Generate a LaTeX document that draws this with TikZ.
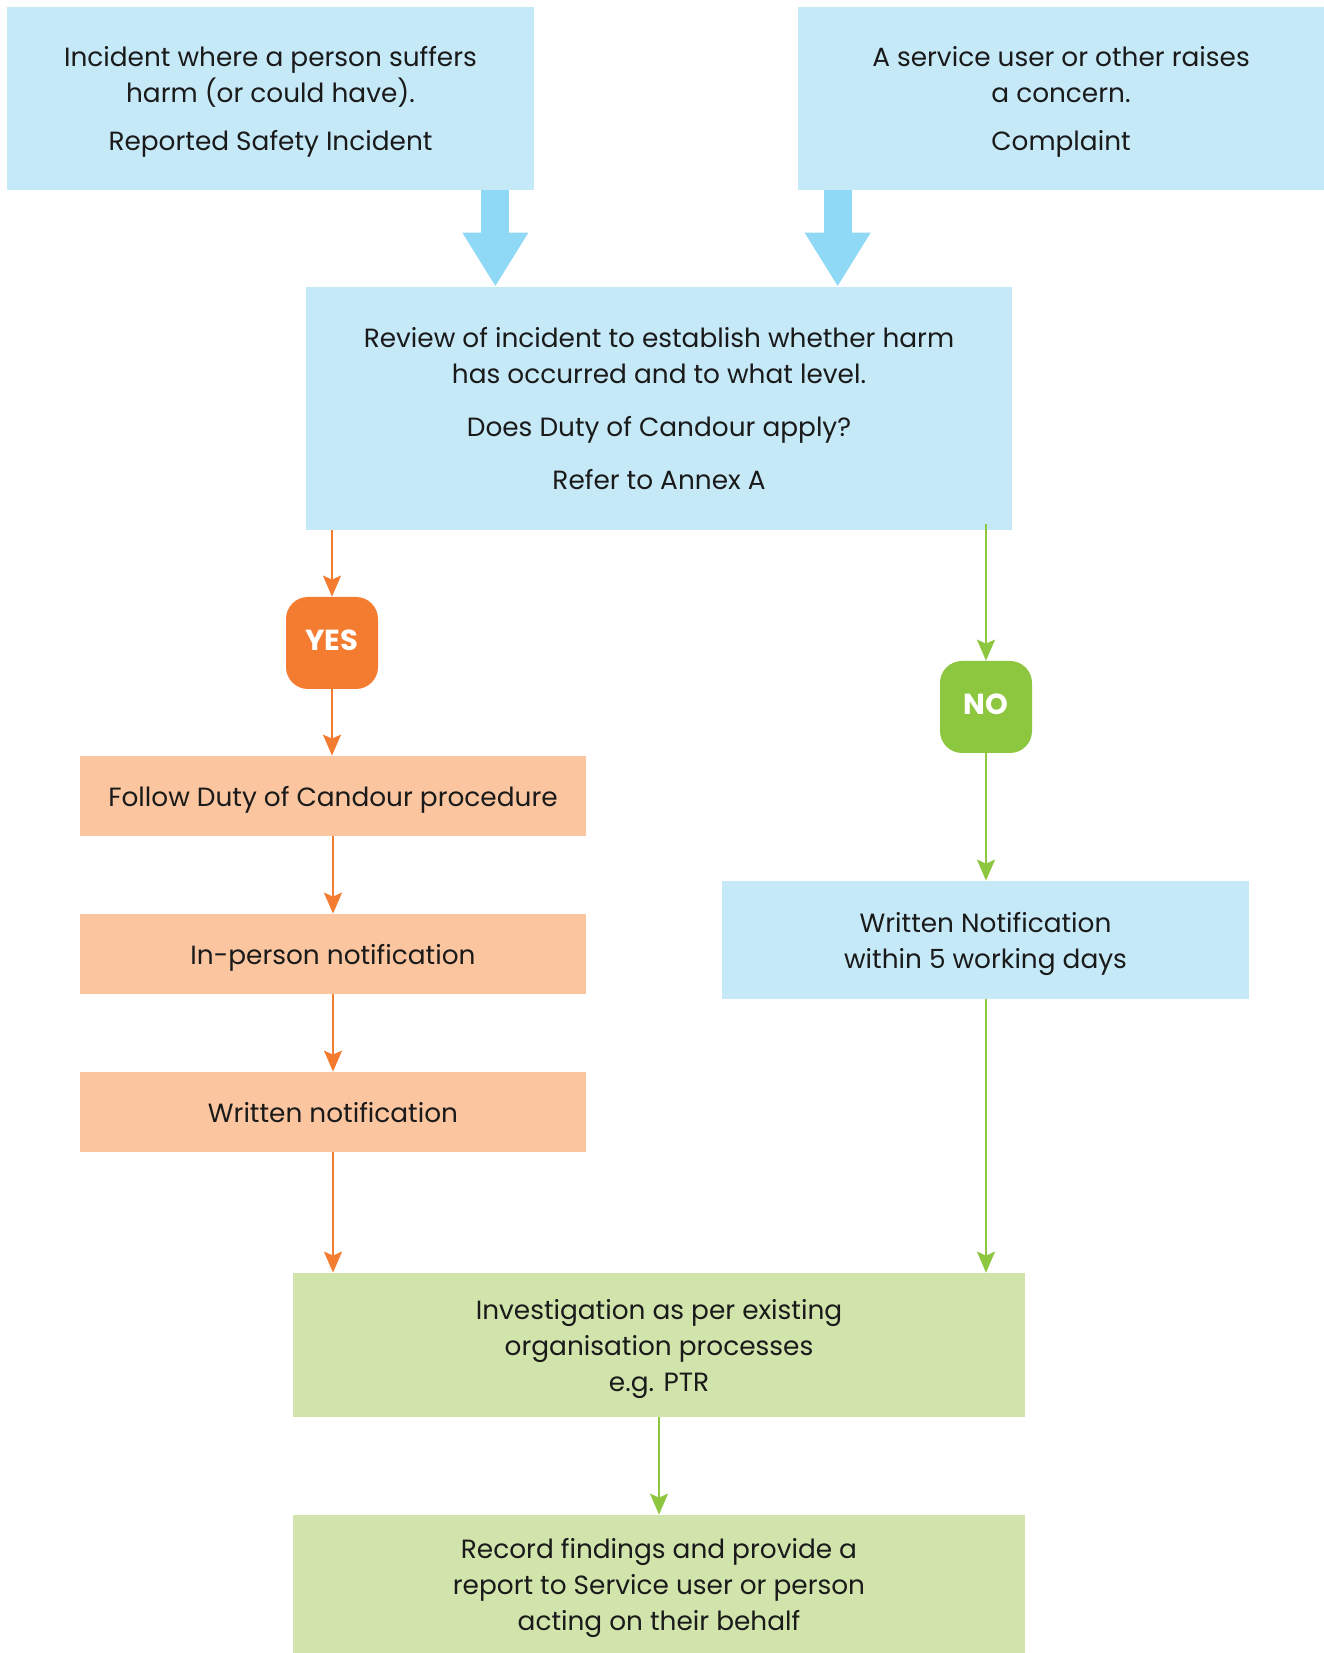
\documentclass[tikz,border=0pt]{standalone}
\usepackage{fontspec}
\setmainfont{Poppins}
\usepackage{xcolor}
\usepackage{tikz}
\usetikzlibrary{arrows.meta}
\definecolor{DCBlue}{HTML}{C6E9F8}
\definecolor{DCArrow}{HTML}{8FD8F6}
\definecolor{DCOrange}{HTML}{F47C30}
\definecolor{DCPeach}{HTML}{FAC59F}
\definecolor{DCGreen}{HTML}{8DC63F}
\definecolor{DCSage}{HTML}{D0E4AC}
\definecolor{DCText}{HTML}{1A1A1A}
\tikzset{
  box/.style={inner sep=0pt,align=center,text=DCText,font=\fontsize{15}{20.5}\selectfont,text depth=-0.20cm},
  bluebox/.style={box,fill=DCBlue},
  peachbox/.style={box,fill=DCPeach,minimum width=10.12cm,minimum height=1.60cm},
  sagebox/.style={box,fill=DCSage,minimum width=14.64cm},
  answer/.style={inner sep=0pt,minimum width=1.84cm,minimum height=1.84cm,rounded corners=0.44cm,text=white,text depth=0.13cm,font=\fontsize{16.5}{20}\selectfont\bfseries},
  bigarrow/.style={DCArrow,line width=0.56cm,-{Triangle[width=1.24cm,length=1.08cm]}},
  orangeline/.style={DCOrange,line width=0.04cm,-{Stealth[length=0.42cm,width=0.36cm,inset=0.08cm]}},
  greenline/.style={DCGreen,line width=0.04cm,-{Stealth[length=0.42cm,width=0.36cm,inset=0.08cm]}}
}
\begin{document}
\begin{tikzpicture}[x=1cm,y=1cm]
\path[use as bounding box,fill=white] (0,0) rectangle (26.48,33.06);
\node[bluebox,minimum width=10.54cm,minimum height=3.66cm,text depth=-0.09cm] (incident) at (5.41,31.09) {Incident where a person suffers\\harm (or could have).\\[0.24cm]Reported Safety Incident};
\node[bluebox,minimum width=10.52cm,minimum height=3.66cm,text depth=-0.09cm] (complaint) at (21.22,31.09) {A service user or other raises\\a concern.\\[0.24cm]Complaint};
\node[bluebox,minimum width=14.12cm,minimum height=4.86cm] (review) at (13.18,24.89) {Review of incident to establish whether harm\\has occurred and to what level.\\[0.34cm]Does Duty of Candour apply?\\[0.34cm]Refer to Annex A};
\node[answer,fill=DCOrange] (yes) at (6.64,20.20) {YES};
\node[answer,fill=DCGreen] (no) at (19.72,18.92) {NO};
\node[peachbox] (follow) at (6.66,17.14) {Follow Duty of Candour procedure};
\node[peachbox] (inperson) at (6.66,13.98) {In-person notification};
\node[peachbox] (written) at (6.66,10.82) {Written notification};
\node[bluebox,minimum width=10.54cm,minimum height=2.36cm] (notice) at (19.71,14.26) {Written Notification\\within 5 working days};
\node[sagebox,minimum height=2.88cm] (investigation) at (13.18,6.16) {Investigation as per existing\\organisation processes\\e.g. PTR};
\node[sagebox,minimum height=2.76cm,text depth=-0.39cm] (record) at (13.18,1.38) {Record findings and provide a\\report to Service user or person\\acting on their behalf};
\draw[bigarrow] ([xshift=-0.78cm]incident.south east) -- ([xshift=-0.78cm]incident.south east |- review.north);
\draw[bigarrow] ([xshift=0.80cm]complaint.south west) -- ([xshift=0.80cm]complaint.south west |- review.north);
\draw[orangeline] (yes |- review.south) -- (yes);
\draw[orangeline] (yes) -- (yes |- follow.north);
\draw[orangeline] (follow) -- (inperson);
\draw[orangeline] (inperson) -- (written);
\draw[orangeline] (written) -- (written |- investigation.north);
\draw[greenline] ([yshift=0.12cm]review.south -| no) -- (no);
\draw[greenline] (no) -- (no |- notice.north);
\draw[greenline] (notice.south -| no) -- (no |- investigation.north);
\draw[greenline] (investigation) -- (record);
\end{tikzpicture}
\end{document}
